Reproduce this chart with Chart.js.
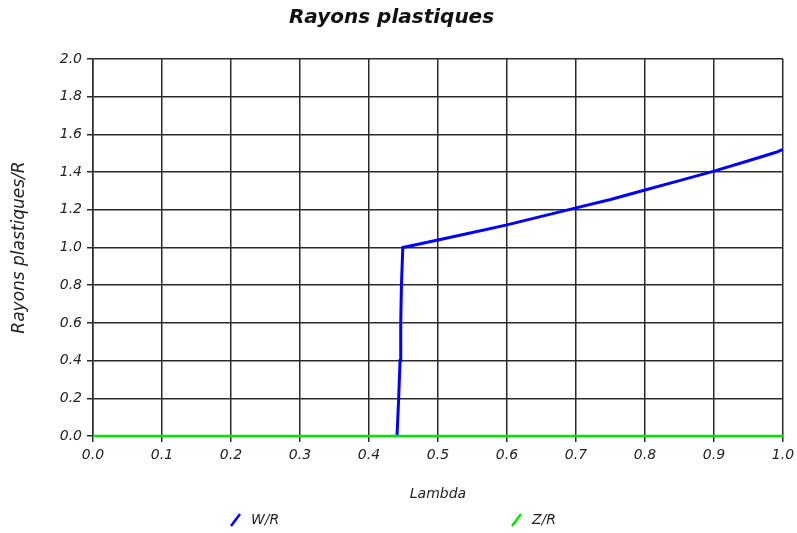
<!DOCTYPE html>
<html>
<head>
<meta charset="utf-8">
<script src="https://cdn.jsdelivr.net/npm/chart.js@4/dist/chart.umd.min.js"></script>
<style>
    html, body { margin: 0; padding: 0; background: #fff; }
    #wrap { width: 797px; height: 533px; }
</style>
</head>
<body>
<div id="wrap"><canvas id="grafico"></canvas></div>
<script>
// valeurs
const lambdaWR = [0.4406, 0.443, 0.445, 0.446, 0.447, 0.449, 0.5, 0.55, 0.6, 0.65, 0.7, 0.75, 0.8, 0.85, 0.9, 0.95, 0.99, 1.0];
const rayonWR  = [0.0, 0.2, 0.4, 0.6, 0.8, 1.0, 1.04, 1.08, 1.12, 1.165, 1.21, 1.255, 1.305, 1.355, 1.405, 1.46, 1.505, 1.52];
const lambdaZR = [0.0, 1.0];
const rayonZR  = [0.0, 0.0];
const seriesNames = ['W/R', 'Z/R'];
const seriesColors = ['rgb(0, 0, 255)', 'rgb(0, 230, 0)'];

const police = '"DejaVu Sans", Verdana, sans-serif';

function points(xs, ys) {
    return xs.map((x, i) => ({ x: x, y: ys[i] }));
}

// legende en bas avec les petits traits obliques
const legendeBas = {
    id: 'legendeBas',
    afterDraw: function (chart) {
        const ctx = chart.ctx;
        const pos = [231, 512];
        ctx.save();
        chart.data.datasets.forEach(function (ds, i) {
            const x = pos[i];
            ctx.strokeStyle = ds.borderColor;
            ctx.lineWidth = 2.5;
            ctx.beginPath();
            ctx.moveTo(x, 526);
            ctx.lineTo(x + 9, 514);
            ctx.stroke();
            ctx.fillStyle = '#222';
            ctx.font = 'italic 14px ' + police;
            ctx.textBaseline = 'middle';
            ctx.fillText(ds.label, x + 20, 520);
        });
        ctx.restore();
    }
};

const ctx = document.getElementById('grafico').getContext('2d');
const data = {
    datasets: [{
        label: seriesNames[0],
        data: points(lambdaWR, rayonWR),
        borderColor: seriesColors[0],
        borderWidth: 3,
        pointRadius: 0,
        order: 2
    }, {
        label: seriesNames[1],
        data: points(lambdaZR, rayonZR),
        borderColor: seriesColors[1],
        borderWidth: 2.5,
        pointRadius: 0,
        clip: false,
        order: 1
    }]
};

const tickFont = { family: police, size: 14, style: 'italic' };

const config = {
    type: 'line',
    data: data,
    plugins: [legendeBas],
    options: {
        responsive: true,
        maintainAspectRatio: false,
        animation: false,
        layout: { padding: { left: 0, right: 14, top: 0, bottom: 30 } },
        plugins: {
            legend: { display: false },
            tooltip: { enabled: false },
            title: {
                display: true,
                text: 'Rayons plastiques',
                color: '#111',
                font: { family: police, size: 20, weight: 'bold', style: 'italic' },
                padding: { top: 6, bottom: 29 }
            }
        },
        scales: {
            x: {
                type: 'linear',
                min: 0,
                max: 1,
                afterFit: function (scale) {
                    scale.height = 67;
                    scale.paddingRight = 0;
                },
                ticks: {
                    stepSize: 0.1,
                    color: '#222',
                    font: tickFont,
                    padding: 5,
                    maxRotation: 0,
                    callback: function (v) { return v.toFixed(1); }
                },
                grid: { color: '#2a2a2a', lineWidth: 1.5, tickLength: 6 },
                border: { color: '#2a2a2a', width: 1.5 },
                title: {
                    display: true,
                    text: 'Lambda',
                    color: '#222',
                    font: tickFont,
                    padding: { top: 4, bottom: 0 }
                }
            },
            y: {
                min: 0,
                max: 2,
                afterFit: function (scale) { scale.width = 93; },
                ticks: {
                    stepSize: 0.2,
                    color: '#222',
                    font: tickFont,
                    padding: 5,
                    callback: function (v) { return v.toFixed(1); }
                },
                grid: { color: '#2a2a2a', lineWidth: 1.5, tickLength: 6 },
                border: { color: '#2a2a2a', width: 1.5 },
                title: {
                    display: true,
                    text: 'Rayons plastiques/R',
                    color: '#222',
                    font: { family: police, size: 17, style: 'italic' },
                    padding: { top: 9, bottom: 4 }
                }
            }
        }
    }
};

new Chart(ctx, config);
</script>
</body>
</html>
